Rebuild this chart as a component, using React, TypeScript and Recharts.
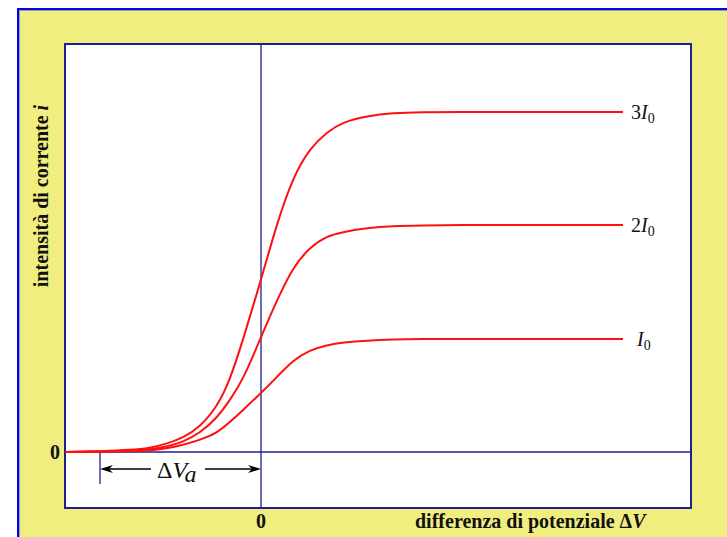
import React from 'react';
import { LineChart, Line, XAxis, YAxis, ReferenceLine, ReferenceArea } from 'recharts';

// potential difference (arbitrary units, 0 = the vertical axis)
const voltage = [-196, -160, -130, -111, -95, -78, -61, -44, -31, -18, 0, 16, 32, 49, 66, 82, 106, 132, 160, 200, 260, 362];
// current for the three light intensities
const currentI0 = [0, 0.3, 0.9, 1.5, 3.5, 7, 12, 19, 30, 42, 59, 75, 92, 102, 107, 109.5, 111.5, 112.5, 113, 113, 113, 113];
const current2I0 = [0, 0.5, 1.3, 2.5, 5, 10, 19, 34, 52, 72, 115, 152, 185, 205, 216, 220, 224, 226, 226.5, 227, 227, 227];
const current3I0 = [0, 0.8, 2, 4, 8, 14, 25, 45, 72, 112, 172, 229, 275, 304, 320, 330, 336, 339, 340, 340, 340, 340];

const seriesCoef = ['', '2', '3'];
const xTicks = [0];
const yTicks = [0];
const stoppingVoltage = -161;

const X_DOMAIN: [number, number] = [-196, 430];
const Y_DOMAIN: [number, number] = [-56, 408];

const data = voltage.map((v, i) => ({
  v,
  i1: currentI0[i],
  i2: current2I0[i],
  i3: current3I0[i],
}));

const SERIF = '"Liberation Serif", "Times New Roman", serif';
const NAVY = '#1f1f8f';

const endLabel = (coef: string) => (props: any) => {
  if (props.index !== data.length - 1) return null;
  const x = props.x + (coef ? 8 : 14);
  return (
    <text x={x} y={props.y + 7} fontFamily={SERIF} fontSize={20} fill="#111">
      {coef}
      <tspan fontStyle="italic">I</tspan>
      <tspan fontSize={14} dy={4}>0</tspan>
    </text>
  );
};

const arrowShape = (props: any) => {
  const { x1, y1, x2, y2 } = props;
  const dir = x2 > x1 ? 1 : -1;
  const len = 13;
  const half = 4;
  return (
    <g>
      <line x1={x1} y1={y1} x2={x2 - dir * 8} y2={y2} stroke="#000" strokeWidth={1.6} />
      <path
        d={`M${x2},${y2} L${x2 - dir * len},${y2 - half} L${x2 - dir * (len - 4)},${y2} L${x2 - dir * len},${y2 + half} Z`}
        fill="#000"
      />
    </g>
  );
};

export default function App() {
  return (
    <div style={{ position: 'relative', width: 727, height: 537, background: '#fff', overflow: 'hidden' }}>
      <style>{'body{margin:0;overflow:hidden}'}</style>
      <div
        style={{
          position: 'absolute',
          left: 17,
          top: 8,
          width: 740,
          height: 560,
          background: '#f0ee7e',
          borderLeft: '2px solid #0000ff',
          borderTop: '2px solid #0000ff',
          boxShadow: 'inset 1px 1px 0 #9a9a9a',
        }}
      />
      <div style={{ position: 'absolute', left: 0, top: 0 }}>
        <LineChart width={727} height={537} data={data} margin={{ top: 44, right: 36, left: 0, bottom: 0 }}>
          <XAxis
            type="number"
            dataKey="v"
            domain={X_DOMAIN}
            ticks={xTicks}
            height={29}
            axisLine={false}
            tickLine={false}
            tickSize={0}
            tickMargin={6}
            tick={{ fontFamily: SERIF, fontSize: 20, fontWeight: 'bold', fill: '#111' }}
          />
          <YAxis
            type="number"
            domain={Y_DOMAIN}
            ticks={yTicks}
            width={65}
            axisLine={false}
            tickLine={false}
            tickSize={0}
            tickMargin={5}
            tick={{ fontFamily: SERIF, fontSize: 20, fontWeight: 'bold', fill: '#111' }}
          />
          <ReferenceArea
            x1={X_DOMAIN[0]}
            x2={X_DOMAIN[1]}
            y1={Y_DOMAIN[0]}
            y2={Y_DOMAIN[1]}
            fill="#fff"
            fillOpacity={1}
            stroke={NAVY}
            strokeWidth={2}
          />
          <ReferenceLine y={0} stroke={NAVY} strokeWidth={1.3} />
          <ReferenceLine x={0} stroke={NAVY} strokeWidth={1.3} />
          <ReferenceLine
            segment={[{ x: stoppingVoltage, y: 0 }, { x: stoppingVoltage, y: -32 }]}
            stroke={NAVY}
            strokeWidth={1.3}
          />
          <ReferenceLine
            segment={[{ x: stoppingVoltage + 51, y: -17 }, { x: stoppingVoltage, y: -17 }]}
            shape={arrowShape}
          />
          <ReferenceLine segment={[{ x: -56, y: -17 }, { x: 0, y: -17 }]} shape={arrowShape} />
          <Line type="basis" dataKey="i1" stroke="#ff1010" strokeWidth={2} dot={false} isAnimationActive={false} label={endLabel(seriesCoef[0])} />
          <Line type="basis" dataKey="i2" stroke="#ff1010" strokeWidth={2} dot={false} isAnimationActive={false} label={endLabel(seriesCoef[1])} />
          <Line type="basis" dataKey="i3" stroke="#ff1010" strokeWidth={2} dot={false} isAnimationActive={false} label={endLabel(seriesCoef[2])} />
        </LineChart>
      </div>
      <svg width={727} height={537} style={{ position: 'absolute', left: 0, top: 0, pointerEvents: 'none' }}>
        <text
          x={48}
          y={196}
          transform="rotate(-90, 48, 196)"
          textAnchor="middle"
          fontFamily={SERIF}
          fontSize={20}
          fontWeight="bold"
          fill="#111"
        >
          intensità di corrente <tspan fontStyle="italic">i</tspan>
        </text>
        <text x={415} y={528} fontFamily={SERIF} fontSize={20} fontWeight="bold" fill="#111">
          differenza di potenziale Δ<tspan fontStyle="italic">V</tspan>
        </text>
        <text x={157} y={478} fontFamily={SERIF} fontSize={24} fill="#111">
          Δ<tspan fontStyle="italic">V</tspan>
          <tspan fontStyle="italic" dy={4}>a</tspan>
        </text>
      </svg>
    </div>
  );
}
